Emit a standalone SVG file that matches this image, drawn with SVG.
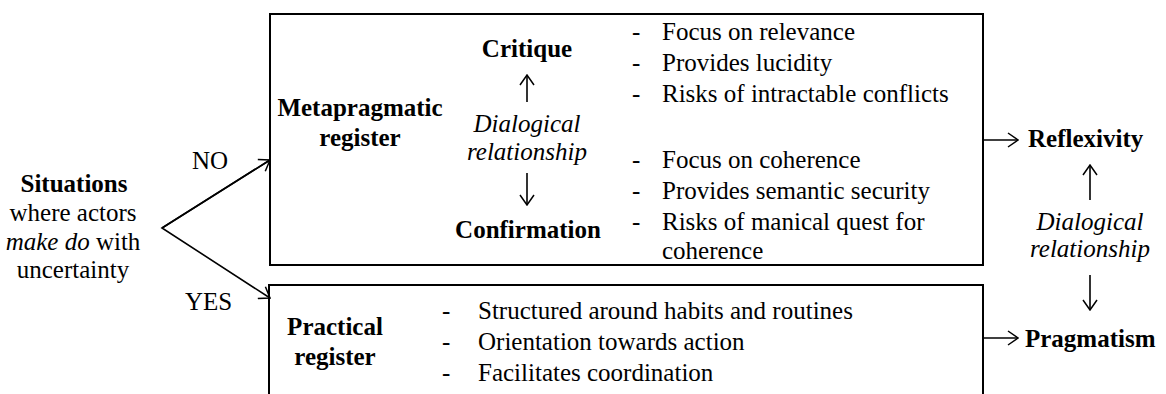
<svg xmlns="http://www.w3.org/2000/svg" width="1166" height="394" viewBox="0 0 1166 394">
<style>
text{font-family:'Liberation Serif','Times New Roman',Tinos,'DejaVu Serif',serif;font-size:25px;fill:#000}
.b{font-weight:bold}
.i{font-style:italic}
.c{text-anchor:middle}
.box{fill:none;stroke:#000;stroke-width:2}
.ln{fill:none;stroke:#000;stroke-width:1.6}
</style>
<defs>
<marker id="arr" viewBox="0 0 12 16" refX="11" refY="8" markerWidth="12" markerHeight="16" orient="auto" markerUnits="userSpaceOnUse">
<path d="M1,1 L11,8 L1,15" fill="none" stroke="#000" stroke-width="1.5"/>
</marker>
</defs>
<rect width="1166" height="394" fill="#fff"/>

<g id="situations">
<text class="b c" x="74" y="192">Situations</text>
<text class="c" x="73" y="221">where actors</text>
<text class="c" x="73" y="250"><tspan class="i">make do</tspan> with</text>
<text class="c" x="73" y="278">uncertainty</text>
</g>

<g id="metapragmatic">
<rect class="box" x="270" y="14" width="713" height="251"/>
<text class="b c" x="360" y="116">Metapragmatic</text>
<text class="b c" x="360" y="146">register</text>
<text class="b c" x="527" y="57">Critique</text>
<text class="i c" x="527" y="132">Dialogical</text>
<text class="i c" x="527" y="160">relationship</text>
<text class="b c" x="528" y="238">Confirmation</text>
<text x="632" y="40">-</text><text x="662" y="40">Focus on relevance</text>
<text x="632" y="71">-</text><text x="662" y="71">Provides lucidity</text>
<text x="632" y="102">-</text><text x="662" y="102">Risks of intractable conflicts</text>
<text x="632" y="168">-</text><text x="662" y="168">Focus on coherence</text>
<text x="632" y="199">-</text><text x="662" y="199">Provides semantic security</text>
<text x="632" y="230">-</text><text x="662" y="230">Risks of manical quest for</text>
<text x="662" y="259">coherence</text>
</g>

<g id="practical">
<path class="box" d="M269,400 V285 H983 V400"/>
<text class="b c" x="335" y="335">Practical</text>
<text class="b c" x="335" y="365">register</text>
<text x="442" y="319">-</text><text x="478" y="319">Structured around habits and routines</text>
<text x="442" y="350">-</text><text x="478" y="350">Orientation towards action</text>
<text x="442" y="381">-</text><text x="478" y="381">Facilitates coordination</text>
</g>

<g id="labels">
<text x="192" y="169">NO</text>
<text x="185" y="310">YES</text>
<text class="b" x="1028" y="147">Reflexivity</text>
<text class="b" x="1025" y="347">Pragmatism</text>
<text class="i c" x="1090" y="230">Dialogical</text>
<text class="i c" x="1090" y="257">relationship</text>
</g>

<g id="connectors">
<polyline class="ln" points="270,160 162,228 270,298" marker-end="url(#arr)"/>
<line class="ln" x1="162" y1="228" x2="270" y2="160" marker-end="url(#arr)"/>
<line class="ln" x1="527" y1="102" x2="527" y2="75" marker-end="url(#arr)"/>
<line class="ln" x1="527" y1="173" x2="527" y2="205" marker-end="url(#arr)"/>
<line class="ln" x1="983" y1="140" x2="1018" y2="140" marker-end="url(#arr)"/>
<line class="ln" x1="983" y1="338" x2="1018" y2="338" marker-end="url(#arr)"/>
<line class="ln" x1="1090" y1="200" x2="1090" y2="165" marker-end="url(#arr)"/>
<line class="ln" x1="1090" y1="275" x2="1090" y2="310" marker-end="url(#arr)"/>
</g>
</svg>
